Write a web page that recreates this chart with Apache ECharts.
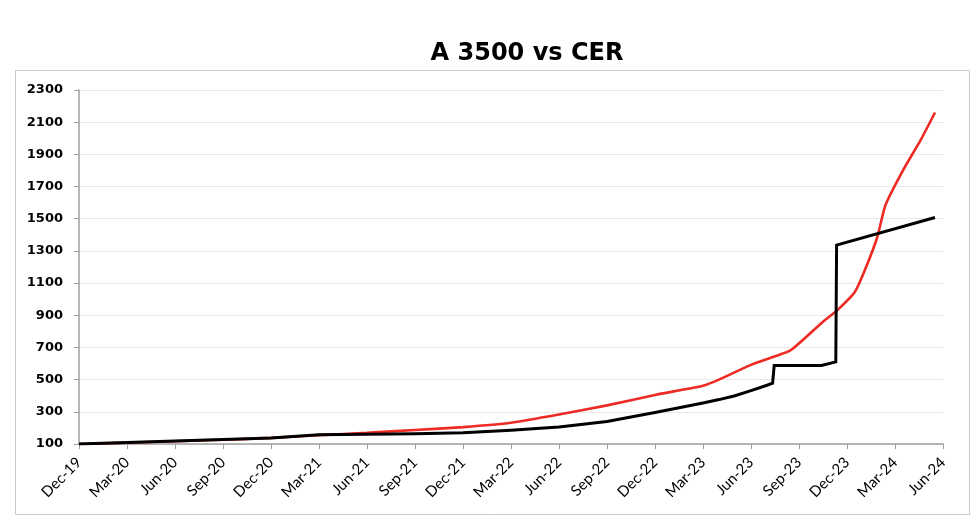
<!DOCTYPE html>
<html>
<head>
<meta charset="utf-8">
<script src="https://cdn.jsdelivr.net/npm/echarts@6/dist/echarts.min.js"></script>
<style>html,body{margin:0;padding:0;background:#fff}#c{width:980px;height:522px}</style>
</head>
<body>
<div id="c"></div>
<script>
// Quarterly tick labels (x = months since Dec-19)
var tickLabels = ['Dec-19','Mar-20','Jun-20','Sep-20','Dec-20','Mar-21','Jun-21','Sep-21','Dec-21','Mar-22','Jun-22','Sep-22','Dec-22','Mar-23','Jun-23','Sep-23','Dec-23','Mar-24','Jun-24'];

// CER (red): month index, value
var cerMonths = [0, 3, 6, 9, 12, 15, 18, 21, 24, 27, 30, 33, 36, 39, 40, 42, 43.5, 44.5, 46.5, 47.4, 48.5, 49.2, 49.9, 50.4, 51.5, 52.6, 53.5];
var cerValues = [100, 108, 117, 126, 138, 155, 170, 187, 205, 232, 283, 340, 405, 462, 500, 592, 645, 684, 860, 932, 1046, 1201, 1388, 1584, 1801, 1988, 2160];

// A 3500 (black): month index, value
var a3500Months = [0, 3, 6, 9, 12, 15, 18, 21, 24, 27, 30, 33, 36, 37.5, 39, 40, 41, 42, 43, 43.35, 43.45, 46.4, 47.3, 47.35, 53.5];
var a3500Values = [100, 110, 119, 128, 138, 157, 161, 164, 170, 185, 205, 240, 296, 325, 355, 376, 400, 432, 465, 478, 588, 588, 610, 1336, 1508];

function pairs(xs, ys){ return xs.map(function(x,i){ return [x, ys[i]]; }); }

var chart = echarts.init(document.getElementById('c'), null, {renderer:'canvas'});
chart.setOption({
  animation: false,
  backgroundColor: '#fff',
  title: {
    text: 'A 3500 vs CER',
    left: 522, top: 37, textAlign: 'center',
    textStyle: {fontFamily: 'DejaVu Sans', fontWeight: 'bold', fontSize: 24, color: '#000'}
  },
  graphic: [{
    type: 'rect', shape: {x: 15.5, y: 70.5, width: 954, height: 444},
    style: {fill: 'none', stroke: '#c8c8c8', lineWidth: 1}, z: -1
  }],
  grid: {left: 79, right: 37, top: 90, bottom: 78},
  xAxis: {
    type: 'value', min: 0, max: 54, interval: 3,
    axisLine: {show: true, lineStyle: {color: '#a0a0a0', width: 1.5}},
    axisTick: {show: true, length: 5, lineStyle: {color: '#a0a0a0'}},
    splitLine: {show: false},
    axisLabel: {
      rotate: 45, margin: 16, color: '#000', fontFamily: 'Lato', fontSize: 15,
      formatter: function(v){ return tickLabels[Math.round(v/3)] || ''; }
    }
  },
  yAxis: {
    type: 'value', min: 100, max: 2300, interval: 200,
    axisLine: {show: true, lineStyle: {color: '#a0a0a0', width: 1.5}},
    axisTick: {show: true, length: 5, lineStyle: {color: '#a0a0a0'}},
    splitLine: {show: true, lineStyle: {color: '#e8e8e8', width: 1}},
    axisLabel: {margin: 16, color: '#000', fontFamily: 'DejaVu Sans', fontWeight: 'bold', fontSize: 13,
      formatter: function(v){ return String(v); }}
  },
  series: [
    {name: 'CER', type: 'line', data: pairs(cerMonths, cerValues), showSymbol: false, smooth: 0.2,
     lineStyle: {color: '#ee2a24', width: 2.6}, z: 2},
    {name: 'A 3500', type: 'line', data: pairs(a3500Months, a3500Values), showSymbol: false,
     lineStyle: {color: '#000', width: 3, join: 'miter'}, z: 3}
  ]
});
</script>
</body>
</html>
